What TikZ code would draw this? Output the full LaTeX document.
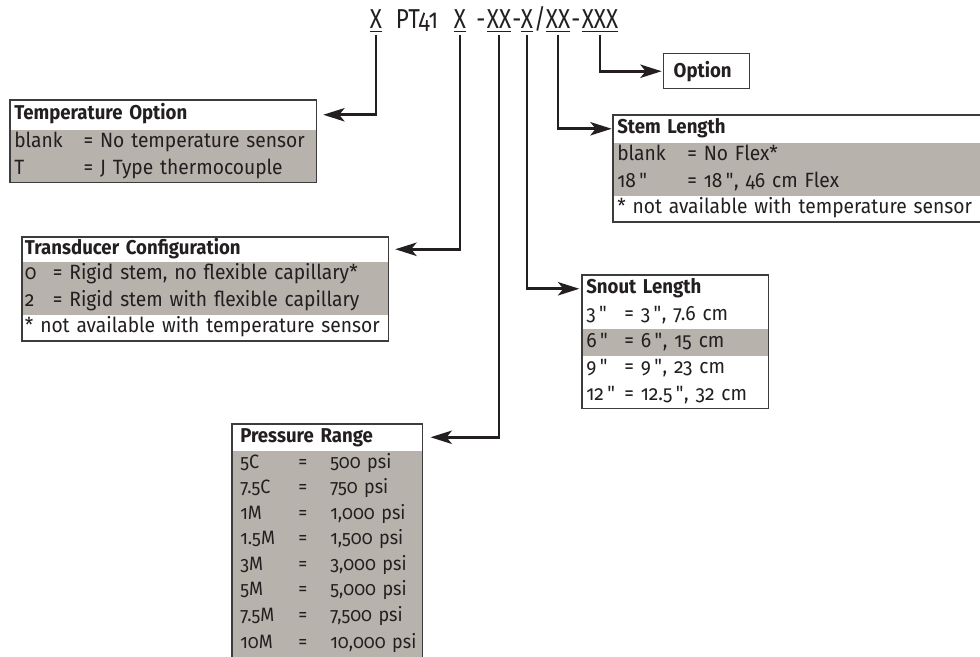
\documentclass[tikz,border=0pt]{standalone}
\usepackage{fontspec}
\setmainfont{Fira Sans}[Numbers=OldStyle, FakeStretch=0.93]
\newfontfamily\codefont{Fira Sans}[Numbers=OldStyle, FakeStretch=0.82]
\usetikzlibrary{arrows.meta,positioning,fit}
\definecolor{rowgray}{RGB}{184,178,172}
\definecolor{ink}{RGB}{35,31,32}
\definecolor{rule}{RGB}{60,60,60}
\newcommand{\kv}[3]{\mbox{\makebox[#1][l]{#2}#3}}
\newcommand{\inch}{\,\textquotedbl}

\begin{document}
\begin{tikzpicture}[x=0.75pt,y=-0.75pt]
    \tikzset{
        code/.style = {inner sep=0pt, anchor=base, text=ink, font=\codefont\fontsize{20.5}{23}\selectfont},
        head/.style = {anchor=north west, fill=white, text=ink, text width=#1, align=left, inner xsep=3pt, inner ysep=0pt, minimum height=20.25pt, text height=10.5pt, text depth=3pt, font=\fontsize{15}{17}\selectfont\bfseries},
        grayrow/.style = {fill=rowgray, draw=rowgray, line width=0.4pt, text=ink, text width=#1, align=left, inner xsep=3pt, inner ysep=0pt, minimum height=19.5pt, text height=11pt, text depth=3.5pt, font=\fontsize{15.5}{18}\selectfont},
        whiterow/.style = {grayrow=#1, fill=white, draw=white},
        pressrow/.style = {grayrow=130.5pt, inner xsep=6pt, minimum height=18.75pt, font=\fontsize{14.5}{17}\selectfont},
        frame/.style = {draw=rule, line width=1.1pt, inner sep=0pt, fit=#1},
        line/.style = {draw=ink, line width=2pt, -{Stealth[length=16pt,width=10pt,inset=4pt]}},
    }
    \useasboundingbox (0,0) rectangle (980,656);

    % part number
    \node[code](x1) at (376,29){\underline{X}};
    \node[code](pt) at (417,29){PT41};
    \node[code](x2) at (460,29){\underline{X}};
    \node[code](d1) at (481,29){-};
    \node[code](xx1) at (499,29){\underline{XX}};
    \node[code](d2) at (517,29){-};
    \node[code](x3) at (527,29){\underline{X}};
    \node[code](sl) at (540,29){/};
    \node[code](xx2) at (558,29){\underline{XX}};
    \node[code](d3) at (576,29){-};
    \node[code](xxx) at (600,29){\underline{XXX}};

    % temperature option
    \node[head=223.5pt, minimum height=21.75pt](temp) at (10,100){Temperature Option};
    \node[grayrow=223.5pt](tempblank)[below = 0pt of temp]{\kv{52pt}{blank}{= No temperature sensor}};
    \node[grayrow=223.5pt](tempt)[below = 0pt of tempblank]{\kv{52pt}{T}{= J Type thermocouple}};
    \node[frame={(temp)(tempt)}](tempbox){};

    % transducer configuration
    \node[head=270.5pt, inner xsep=2pt, minimum height=18pt](trans) at (22,237){Transducer Configuration};
    \node[grayrow=270.5pt, inner xsep=2pt](transrigid)[below = 0pt of trans]{\kv{21pt}{0}{= Rigid stem, no flexible capillary*}};
    \node[grayrow=270.5pt, inner xsep=2pt](transflex)[below = 0pt of transrigid]{\kv{21pt}{2}{= Rigid stem with flexible capillary}};
    \node[whiterow=270.5pt, inner xsep=2pt](transnote)[below = 0pt of transflex]{\mbox{* not available with temperature sensor}};
    \node[frame={(trans)(transnote)}](transbox){};

    % pressure range
    \node[head=130.5pt, inner xsep=6pt, minimum height=19.5pt](press) at (232,424){Pressure Range};
    \node[pressrow](p1)[below = 0pt of press]{\kv{43.5pt}{5C}{\kv{24pt}{=}{500 psi}}};
    \node[pressrow](p2)[below = 0pt of p1]{\kv{43.5pt}{7.5C}{\kv{24pt}{=}{750 psi}}};
    \node[pressrow](p3)[below = 0pt of p2]{\kv{43.5pt}{1M}{\kv{24pt}{=}{1,000 psi}}};
    \node[pressrow](p4)[below = 0pt of p3]{\kv{43.5pt}{1.5M}{\kv{24pt}{=}{1,500 psi}}};
    \node[pressrow](p5)[below = 0pt of p4]{\kv{43.5pt}{3M}{\kv{24pt}{=}{3,000 psi}}};
    \node[pressrow](p6)[below = 0pt of p5]{\kv{43.5pt}{5M}{\kv{24pt}{=}{5,000 psi}}};
    \node[pressrow](p7)[below = 0pt of p6]{\kv{43.5pt}{7.5M}{\kv{24pt}{=}{7,500 psi}}};
    \node[pressrow, minimum height=21pt](p8)[below = 0pt of p7]{\kv{43.5pt}{10M}{\kv{24pt}{=}{10,000 psi}}};
    \coordinate(pressend) at (232,664);
    \node[frame={(press)(p8)(pressend)}](pressbox){};

    % snout length
    \node[head=133.5pt](snout) at (582,275){Snout Length};
    \node[whiterow=133.5pt](s3)[below = 0pt of snout]{\kv{28.5pt}{3\inch}{= 3\inch, 7.6 cm}};
    \node[grayrow=133.5pt](s6)[below = 0pt of s3]{\kv{28.5pt}{6\inch}{= 6\inch, 15 cm}};
    \node[whiterow=133.5pt](s9)[below = 0pt of s6]{\kv{28.5pt}{9\inch}{= 9\inch, 23 cm}};
    \node[whiterow=133.5pt](s12)[below = 0pt of s9]{\kv{28.5pt}{12\inch}{= 12.5\inch, 32 cm}};
    \node[frame={(snout)(s12)}](snoutbox){};

    % stem length
    \node[head=286.5pt](stem) at (613,115){Stem Length};
    \node[grayrow=286.5pt](stemblank)[below = 0pt of stem]{\kv{52.5pt}{blank}{= No Flex*}};
    \node[grayrow=286.5pt](stem18)[below = 0pt of stemblank]{\kv{52.5pt}{18\inch}{= 18\inch, 46 cm Flex}};
    \node[whiterow=286.5pt](stemnote)[below = 0pt of stem18]{\mbox{* not available with temperature sensor}};
    \node[frame={(stem)(stemnote)}](stembox){};

    % option
    \node[draw=rule, line width=1.1pt, anchor=north west, text=ink, align=left, text width=49.5pt, inner xsep=7.5pt, minimum height=26.25pt, font=\fontsize{15}{17}\selectfont\bfseries](option) at (663,53){Option};

    \path [line, shorten >=5pt] ([yshift=-2pt]x1.south) |- (temp.east);
    \path [line, shorten >=5pt] ([yshift=-2pt]x2.south) |- (trans.east);
    \path [line, shorten >=6pt] ([yshift=-2pt]xx1.south) |- (press.east);
    \path [line, shorten >=2pt] ([yshift=-2pt]x3.south) |- (snout.west);
    \path [line, shorten >=1pt] ([yshift=-2pt]xx2.south) |- (stem.west);
    \path [line, shorten >=1pt] ([yshift=-2pt]xxx.south) |- (option.west);

\end{tikzpicture}
\end{document}
